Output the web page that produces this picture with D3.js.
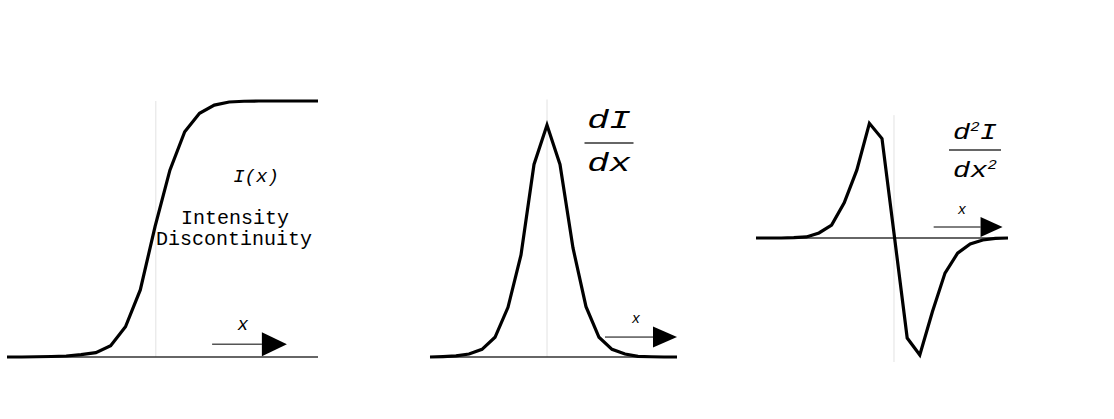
<!DOCTYPE html>
<html><head><meta charset="utf-8">
<script src="https://cdn.jsdelivr.net/npm/d3@7"></script>
<style>html,body{margin:0;padding:0;background:#fff;}svg{display:block;}</style>
</head><body>
<svg id="chart" width="1114" height="419"></svg>
<script>
// ---- data ----
const p1X = d3.range(0, 22);            // sample index, intensity profile
const p1I = [0, 0, 0.001, 0.002, 0.004, 0.009, 0.017, 0.044, 0.118, 0.262, 0.51, 0.73, 0.88, 0.952, 0.984, 0.996, 0.999, 1, 1, 1, 1, 1];
const p2X = d3.range(-9, 11);           // first derivative
const p2D = [0, 0.002, 0.005, 0.013, 0.033, 0.085, 0.214, 0.44, 0.83, 1, 0.83, 0.47, 0.217, 0.085, 0.033, 0.013, 0.003, 0.001, 0, 0];
const p3X = d3.range(-11, 10);          // second derivative
const p3D = [0, 0, 0, 0.003, 0.009, 0.043, 0.11, 0.30, 0.58, 0.98, 0.85, 0, -0.855, -1, -0.63, -0.30, -0.13, -0.05, -0.017, -0.004, 0];
const labels = { p1: "I(x)", p1a: "Intensity", p1b: "Discontinuity", axis: "x" };

const svg = d3.select("#chart");
const FONT = "'Liberation Mono','Courier New',monospace";

const panels = [
  { xs: p1X, ys: p1I, x: d3.scaleLinear().domain([0, 21]).range([7, 318]),
    y: d3.scaleLinear().domain([0, 1]).range([357, 101]),
    center: 10.05, vTop: 1, vBot: 0,
    arrow: { x0: 13.85, x1: 18.9, v: 0.05, len: 25, half: 12, stroke: "#555", sw: 1.5 } },
  { xs: p2X, ys: p2D, x: d3.scaleLinear().domain([-9, 10]).range([430, 677]),
    y: d3.scaleLinear().domain([0, 1]).range([357, 125]),
    center: 0, vTop: 1.11, vBot: 0,
    arrow: { x0: 4.46, x1: 10, v: 0.086, len: 24, half: 10.5, stroke: "#000", sw: 1 } },
  { xs: p3X, ys: p3D, x: d3.scaleLinear().domain([-11, 9]).range([756, 1008]),
    y: d3.scaleLinear().domain([-1, 1]).range([355, 121]),
    center: -0.05, vTop: 1.05, vBot: -1.06,
    arrow: { x0: 3.1, x1: 8.57, v: 0.094, len: 22, half: 10, stroke: "#000", sw: 1 } }
];

panels.forEach((p, i) => {
  const g = svg.append("g");
  const d0 = p.x.domain();
  // faint vertical centre line
  g.append("line")
    .attr("x1", p.x(p.center)).attr("x2", p.x(p.center))
    .attr("y1", p.y(p.vTop)).attr("y2", p.y(p.vBot))
    .attr("stroke", "#e2e2e2").attr("stroke-width", 1);
  // baseline
  g.append("line")
    .attr("x1", p.x(d0[0])).attr("x2", p.x(d0[1]))
    .attr("y1", p.y(0)).attr("y2", p.y(0))
    .attr("stroke", "#333").attr("stroke-width", 1.3);
  // curve
  const line = d3.line().x((d, j) => p.x(p.xs[j])).y(d => p.y(d));
  g.append("path").datum(p.ys)
    .attr("d", line)
    .attr("fill", "none").attr("stroke", "#000")
    .attr("stroke-width", 3.2).attr("stroke-linejoin", "miter");
  // arrow
  const a = p.arrow;
  const tipX = p.x(a.x1), ay = p.y(a.v);
  g.append("line")
    .attr("x1", p.x(a.x0)).attr("x2", tipX - a.len)
    .attr("y1", ay).attr("y2", ay)
    .attr("stroke", a.stroke).attr("stroke-width", a.sw);
  g.append("path")
    .attr("d", `M${tipX - a.len},${ay - a.half}L${tipX},${ay}L${tipX - a.len},${ay + a.half}Z`)
    .attr("fill", "#000");
});

// texts
function txt(x, y, s, size, italic) {
  return svg.append("text").attr("x", x).attr("y", y)
    .attr("text-anchor", "middle").attr("font-family", FONT)
    .attr("font-size", size).attr("font-style", italic ? "italic" : "normal")
    .attr("fill", "#000").text(s);
}
txt(256, 182, labels.p1, 19, true);
txt(235, 224, labels.p1a, 20, false);
txt(234, 245, labels.p1b, 20, false);
txt(243, 330, labels.axis, 18, true);
txt(636, 323, labels.axis, 14, true);
txt(962, 214, labels.axis, 14, true);

// fractions
function frac(cx, yTop, yBar, yBot, barW, size, sx, top, bot) {
  const gt = svg.append("g").attr("transform", `translate(${cx},${yTop}) scale(${sx},1)`);
  const t1 = gt.append("text").attr("text-anchor", "middle").attr("font-family", FONT)
    .attr("font-size", size).attr("font-style", "italic");
  top.forEach(s => t1.append("tspan").text(s.t)
    .attr("font-size", s.sup ? size * 0.55 : size).attr("dy", s.dy || 0));
  svg.append("line").attr("x1", cx - barW / 2).attr("x2", cx + barW / 2)
    .attr("y1", yBar).attr("y2", yBar).attr("stroke", "#666").attr("stroke-width", 2);
  const gb = svg.append("g").attr("transform", `translate(${cx},${yBot}) scale(${sx},1)`);
  const t2 = gb.append("text").attr("text-anchor", "middle").attr("font-family", FONT)
    .attr("font-size", size).attr("font-style", "italic");
  bot.forEach(s => t2.append("tspan").text(s.t)
    .attr("font-size", s.sup ? size * 0.55 : size).attr("dy", s.dy || 0));
}
frac(609, 128, 143, 171, 49, 26, 1.4, [{ t: "dI" }], [{ t: "dx" }]);
frac(975, 139, 150, 177, 52, 22, 1.3,
  [{ t: "d" }, { t: "2", sup: true, dy: -8 }, { t: "I", dy: 8 }],
  [{ t: "dx" }, { t: "2", sup: true, dy: -8 }]);
</script>
</body></html>
